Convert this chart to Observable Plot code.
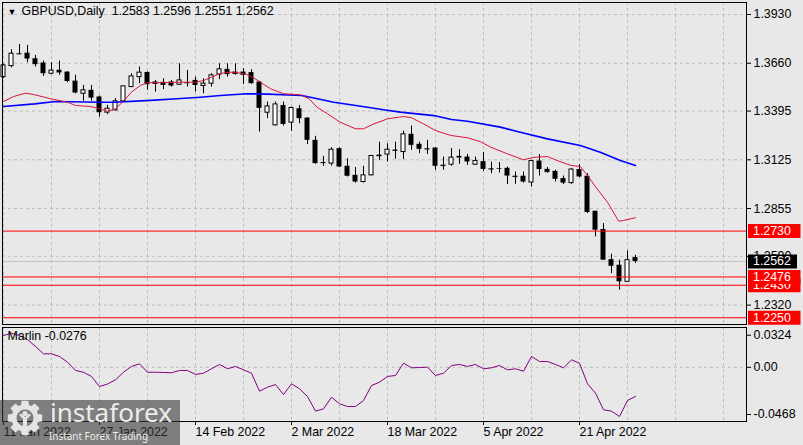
<!DOCTYPE html>
<html><head><meta charset="utf-8">
<script src="https://cdn.jsdelivr.net/npm/d3@7"></script>
<script src="https://cdn.jsdelivr.net/npm/@observablehq/plot@0.6"></script>
<style>
html,body{margin:0;padding:0;background:#e8e8e8;}
#chart{position:relative;width:803px;height:445px;overflow:hidden;background:#e8e8e8;}
#chart svg{position:absolute;left:0;overflow:visible;}
</style></head><body><div id="chart"></div>
<script>
// ---------- data ----------
const symbol = "GBPUSD,Daily";
const opens = [1.3583,1.3644,1.3713,1.3716,1.3685,1.3661,1.3602,1.3621,1.3611,1.3561,
1.3491,1.3510,1.3473,1.3386,1.3399,1.3449,1.3528,1.3583,1.3609,1.3556,
1.3554,1.3556,1.3541,1.3553,1.3565,1.3534,1.3547,1.3597,1.3626,1.3611,
1.3611,1.3608,1.3556,1.3386,1.3316,1.3426,1.3331,1.3408,1.3356,1.3233,
1.3110,1.3104,1.3187,1.3089,1.3039,1.3002,1.3039,1.3146,1.3154,1.3179,
1.3168,1.3266,1.3211,1.3187,1.3190,1.3095,1.3098,1.3144,1.3140,1.3098,
1.3115,1.3076,1.3077,1.3078,1.3034,1.3034,1.2999,1.3118,1.3072,1.3061,
1.3021,1.2996,1.3071,1.3034,1.2840,1.2739,1.2572,1.2541,1.2449,1.2583];
const highs = [1.3655,1.3735,1.3764,1.3759,1.3703,1.3672,1.3663,1.3672,1.3613,1.3593,
1.3537,1.3537,1.3478,1.3427,1.3464,1.3532,1.3602,1.3639,1.3612,1.3565,
1.3574,1.3565,1.3657,1.3620,1.3583,1.3574,1.3602,1.3657,1.3657,1.3657,
1.3630,1.3624,1.3560,1.3445,1.3445,1.3445,1.3417,1.3426,1.3359,1.3255,
1.3144,1.3192,1.3192,1.3131,1.3082,1.3089,1.3148,1.3223,1.3214,1.3223,
1.3284,1.3312,1.3223,1.3233,1.3192,1.3140,1.3187,1.3181,1.3155,1.3140,
1.3166,1.3112,1.3110,1.3085,1.3057,1.3057,1.3118,1.3154,1.3082,1.3067,
1.3035,1.3076,1.3098,1.3048,1.2840,1.2772,1.2602,1.2569,1.2620,1.2596];
const lows = [1.3576,1.3635,1.3708,1.3663,1.3639,1.3587,1.3597,1.3593,1.3552,1.3491,
1.3450,1.3450,1.3362,1.3375,1.3395,1.3445,1.3525,1.3547,1.3510,1.3500,
1.3514,1.3528,1.3537,1.3528,1.3500,1.3491,1.3528,1.3569,1.3583,1.3593,
1.3543,1.3543,1.3279,1.3353,1.3312,1.3312,1.3283,1.3325,1.3209,1.3100,
1.3089,1.3090,1.3082,1.3030,1.2996,1.2996,1.3036,1.3122,1.3113,1.3128,
1.3126,1.3177,1.3159,1.3155,1.3067,1.3067,1.3089,1.3100,1.3094,1.3094,
1.3061,1.3048,1.3052,1.2988,1.2989,1.2996,1.2974,1.3035,1.3052,1.3002,
1.2988,1.2989,1.3026,1.2827,1.2698,1.2569,1.2495,1.2403,1.2449,1.2551];
const closes = [1.3648,1.3713,1.3712,1.3683,1.3652,1.3602,1.3619,1.3606,1.3559,1.3495,
1.3510,1.3467,1.3386,1.3408,1.3449,1.3532,1.3587,1.3608,1.3541,1.3543,
1.3537,1.3534,1.3565,1.3552,1.3537,1.3547,1.3593,1.3626,1.3597,1.3598,
1.3593,1.3547,1.3410,1.3421,1.3432,1.3321,1.3412,1.3353,1.3233,1.3104,
1.3104,1.3181,1.3085,1.3034,1.3002,1.3039,1.3146,1.3148,1.3181,1.3172,
1.3266,1.3205,1.3183,1.3185,1.3089,1.3093,1.3137,1.3135,1.3113,1.3118,
1.3072,1.3074,1.3073,1.3035,1.3032,1.3002,1.3118,1.3071,1.3054,1.3017,
1.2996,1.3071,1.3030,1.2833,1.2735,1.2569,1.2535,1.2449,1.2569,1.2562];
// moving averages: [bar position, price]
const redMA = [[0,1.3448],[1.3,1.3476],[2.75,1.3494],[3.75,1.3487],[5.9,1.3463],[8,1.3444],[9,1.3426],[10.9,1.3420],[12,1.3408],[13,1.3394],[14,1.3408],[15,1.3450],[16,1.3500],[17.1,1.3537],[18,1.3552],[20,1.3552],[22,1.3555],[24,1.3555],[25,1.3564],[26,1.3583],[27,1.3602],[28,1.3610],[29,1.3610],[30.4,1.3598],[31.2,1.3581],[32.1,1.3555],[33.4,1.3518],[35,1.3491],[37.1,1.3485],[38.2,1.3463],[39.2,1.3416],[40.5,1.3380],[42.1,1.3333],[44,1.3297],[45,1.3297],[46.3,1.3324],[48,1.3352],[50,1.3365],[51,1.3358],[52.5,1.3324],[54,1.3287],[55.9,1.3260],[58,1.3247],[59.6,1.3226],[60.9,1.3195],[63,1.3158],[65,1.3125],[66.3,1.3139],[68,1.3143],[69.2,1.3121],[70.9,1.3094],[72.1,1.3088],[73,1.3038],[74.2,1.2964],[75.5,1.2890],[76.9,1.2785],[77.5,1.2789],[79,1.2804]];
const blueMA = [[0,1.3420],[3.9,1.3435],[6.5,1.3448],[12.1,1.3444],[13.8,1.3444],[18.4,1.3454],[21.7,1.3463],[24.6,1.3472],[27.1,1.3481],[30.5,1.3491],[33,1.3489],[37.3,1.3481],[41.3,1.3444],[45.5,1.3416],[47.5,1.3402],[49.6,1.3389],[53.8,1.3370],[56,1.3348],[58,1.3339],[62.1,1.3306],[64.6,1.3278],[68,1.3241],[72.1,1.3204],[74.6,1.3167],[77.1,1.3121],[79,1.3094]];
const marlin = [0.0302,0.0324,0.0302,0.0264,0.0198,0.0128,0.0128,0.0103,0.0049,-0.0030,
-0.0047,-0.0087,-0.0183,-0.0159,-0.0119,-0.0047,0.0008,0.0033,-0.0047,-0.0047,
-0.0049,-0.0052,-0.0030,-0.0030,-0.0068,-0.0056,-0.0014,0.0027,-0.0014,0.0008,
-0.0024,-0.0056,-0.0227,-0.0189,-0.0164,-0.0259,-0.0157,-0.0204,-0.0278,-0.0417,
-0.0395,-0.0284,-0.0347,-0.0373,-0.0373,-0.0316,-0.0173,-0.0142,-0.0087,-0.0078,
0.0039,-0.0005,-0.0002,0.0001,-0.0078,-0.0056,0.0017,0.0027,0.0008,0.0027,
-0.0014,-0.0005,0.0017,-0.0024,-0.0014,-0.0037,0.0103,0.0055,0.0055,0.0027,
-0.0005,0.0071,0.0039,-0.0157,-0.0246,-0.0404,-0.0417,-0.0468,-0.0316,-0.0276];
const priceTicks = [1.3930,1.3660,1.3395,1.3125,1.2855,1.2590,1.2320];
const levels = [1.2730,1.2250,1.2430,1.2476];
const marlinTicks = [0.0324,0,-0.0468];
const marlinTickLabels = ["0.0324","0.00","-0.0468"];
const xTickIdx = [0,12,24,36,48,60,72];
const xTickLabels = ["11 Jan 2022","27 Jan 2022","14 Feb 2022","2 Mar 2022","18 Mar 2022","5 Apr 2022","21 Apr 2022"];

// ---------- layout ----------
const W = 803, mainH = 325, subTop = 325, subH = 120;
const mL = 2, mR = 57;
const xDomain = [-0.125, 92.875];
const barPx = (W - mL - mR) / (xDomain[1] - xDomain[0]);
const idxAt = px => xDomain[0] + (px - mL) / barPx;
const priceDomain = [1.22126, 1.39965];
const marlinDomain = [-0.05154, 0.03785];
const FONT = "'Liberation Sans', Arial, sans-serif";
const style = {background: "transparent", fontFamily: FONT, fontSize: "12.4px", color: "black", overflow: "visible"};
const GRID = "#bdbdbd";
const gridIdx = d3.range(0, 93, 6);

const candles = opens.map((o, i) => ({i, o, h: highs[i], l: lows[i], c: closes[i], up: closes[i] > o}));
const last = candles[candles.length - 1];
const header = `${symbol}\u00a0\u00a0${last.o.toFixed(4)} ${last.h.toFixed(4)} ${last.l.toFixed(4)} ${last.c.toFixed(4)}`;

const boxMarks = (v, color) => [
  Plot.ruleY([v], {y: d => d, x1: idxAt(748), x2: idxAt(color === "black" ? 797 : 800.5), stroke: color, strokeWidth: 14}),
  Plot.text([v], {y: d => d, x: idxAt(752.5), text: d => d.toFixed(4), fill: "white", textAnchor: "start"})
];

const main = Plot.plot({
  width: W, height: mainH,
  marginLeft: mL, marginRight: mR, marginTop: 2, marginBottom: 1,
  style,
  x: {domain: xDomain, axis: null},
  y: {domain: priceDomain},
  marks: [
    Plot.ruleX(gridIdx, {x: d => d, stroke: GRID, strokeDasharray: "3,3"}),
    Plot.ruleY(priceTicks, {y: d => d, stroke: GRID, strokeDasharray: "3,3"}),
    Plot.ruleY([last.c], {y: d => d, stroke: "#c0c0c0"}),
    Plot.ruleX(candles, {x: "i", y1: "l", y2: "h", stroke: "black"}),
    Plot.rect(candles.filter(d => !d.up), {x1: d => d.i - 0.5, x2: d => d.i + 0.5, y1: "o", y2: "c", fill: "black", insetLeft: 1.5, insetRight: 1.5}),
    Plot.rect(candles.filter(d => d.up), {x1: d => d.i - 0.5, x2: d => d.i + 0.5, y1: "o", y2: "c", fill: "white", stroke: "black", insetLeft: 2, insetRight: 2}),
    Plot.ruleY(candles.filter(d => Math.abs(d.o - d.c) < 0.0004), {y: "c", x1: d => d.i - 0.5, x2: d => d.i + 0.5, insetLeft: 1.5, insetRight: 1.5, stroke: "black"}),
    Plot.line(blueMA, {x: d => d[0], y: d => d[1], stroke: "#0000ff", strokeWidth: 1.6}),
    Plot.line(redMA, {x: d => d[0], y: d => d[1], stroke: "#dc143c", strokeWidth: 1}),
    Plot.ruleY(levels, {y: d => d, stroke: "#ff0000"}),
    Plot.frame({stroke: "black"}),
    Plot.axisY({anchor: "right", ticks: priceTicks, tickSize: 4, tickPadding: 3, tickFormat: d => d.toFixed(4), label: null}),
    ...levels.flatMap(v => boxMarks(v, "#ff0000")),
    ...boxMarks(last.c, "black"),
    Plot.text(["\u25BC"], {text: d => d, frameAnchor: "top-left", dx: 5, dy: 6, lineAnchor: "top", textAnchor: "start", fontSize: 9, fill: "black"}),
    Plot.text([header], {text: d => d, frameAnchor: "top-left", dx: 19, dy: 4, lineAnchor: "top", textAnchor: "start", fill: "black"})
  ]
});
main.style.top = "0px";

const sub = Plot.plot({
  width: W, height: subH,
  marginLeft: mL, marginRight: mR, marginTop: 2, marginBottom: 24,
  style,
  x: {domain: xDomain},
  y: {domain: marlinDomain},
  marks: [
    Plot.ruleX(gridIdx, {x: d => d, stroke: GRID, strokeDasharray: "3,3"}),
    Plot.ruleY([0], {y: d => d, stroke: GRID, strokeDasharray: "3,3"}),
    Plot.line(marlin, {x: (d, i) => i, y: d => d, stroke: "#800080", strokeWidth: 1}),
    Plot.frame({stroke: "black"}),
    Plot.axisY({anchor: "right", ticks: [marlinTicks[0]], tickFormat: () => marlinTickLabels[0], tickSize: 4, tickPadding: 3, dy: 2, label: null}),
    Plot.axisY({anchor: "right", ticks: [marlinTicks[1]], tickFormat: () => marlinTickLabels[1], tickSize: 4, tickPadding: 3, label: null}),
    Plot.axisY({anchor: "right", ticks: [marlinTicks[2]], tickFormat: () => marlinTickLabels[2], tickSize: 4, tickPadding: 3, dy: -2, label: null}),
    Plot.axisX({ticks: xTickIdx, tickFormat: d => xTickLabels[xTickIdx.indexOf(d)], textAnchor: "start", tickSize: 4, tickPadding: 2, label: null}),
    Plot.text([`Marlin ${marlin[marlin.length - 1].toFixed(4)}`], {text: d => d, frameAnchor: "top-left", dx: 5, dy: 4, lineAnchor: "top", textAnchor: "start", fill: "black"})
  ]
});
sub.style.top = subTop + "px";

const chart = document.getElementById("chart");
chart.appendChild(main);
chart.appendChild(sub);

// ---------- watermark (decoration) ----------
const ov = d3.select(chart).append("svg").attr("width", W).attr("height", 445).style("top", "0px").style("pointer-events", "none");
ov.append("rect").attr("x", 0).attr("y", 400).attr("width", 180).attr("height", 45).attr("fill", "rgba(55,55,55,0.6)");
const gear = ov.append("g").attr("transform", "translate(25,418)");
const teeth = 8, pts = [];
for (let k = 0; k < teeth; k++) {
  const a = k * 2 * Math.PI / teeth, w = Math.PI / teeth * 0.5;
  [[a - w * 1.5, 13.5], [a - w, 17.5], [a + w, 17.5], [a + w * 1.5, 13.5]].forEach(([t, r]) => pts.push([r * Math.sin(t), -r * Math.cos(t)]));
}
const outer = "M" + pts.map(p => p.join(",")).join("L") + "Z";
const inner = "M0,-8.5A8.5,8.5 0 1,0 0,8.5A8.5,8.5 0 1,0 0,-8.5Z";
gear.append("path").attr("d", outer + inner).attr("fill-rule", "evenodd").attr("fill", "#e4e4e4");
gear.append("circle").attr("cx", 0).attr("cy", -4.5).attr("r", 2.6).attr("fill", "#e4e4e4");
gear.append("path").attr("d", "M-6,-3L-2,1L-2,9L2,9L2,1L6,-3L4,-4.5L0,-1L-4,-4.5Z").attr("fill", "#e4e4e4");
ov.append("text").attr("x", 50).attr("y", 422).attr("font-family", "'Noto Sans', sans-serif").attr("font-size", 26)
  .attr("textLength", 122).attr("lengthAdjust", "spacingAndGlyphs").attr("fill", "#ececec").text("instaforex");
ov.append("text").attr("x", 49).attr("y", 440).attr("font-family", "'Noto Sans', sans-serif").attr("font-size", 11.5)
  .attr("textLength", 99).attr("lengthAdjust", "spacingAndGlyphs").attr("fill", "#ececec").text("Instant Forex Trading");
</script></body></html>
